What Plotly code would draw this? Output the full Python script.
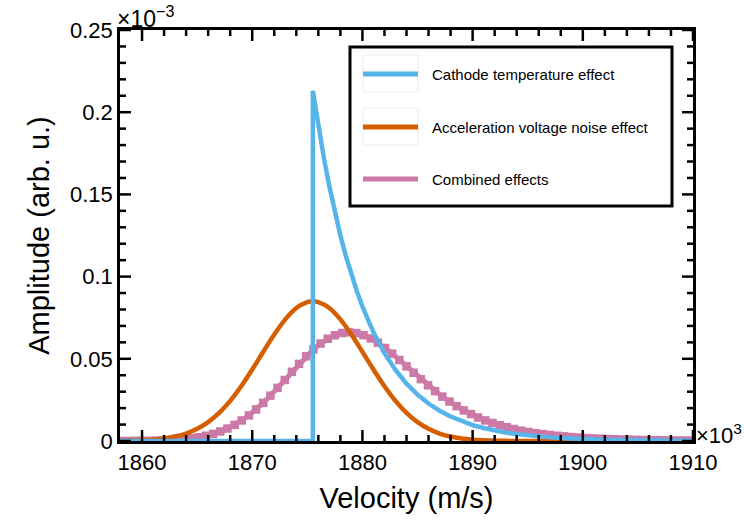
import numpy as np
import plotly.graph_objects as go

# ---- data (x in units of 1e3 m/s, y in units of 1e-3) ----
cath_x = [1858, 1875.5, 1875.5, 1875.75, 1876, 1876.5, 1877, 1877.5, 1878, 1878.5,
          1879, 1879.5, 1880, 1881, 1882, 1883, 1884, 1885, 1886, 1887, 1888, 1889,
          1890, 1891, 1892, 1893, 1894, 1895, 1896, 1897, 1898, 1899, 1900, 1901,
          1902, 1903, 1904, 1905, 1906, 1907, 1908, 1909, 1910]
cath_y = [0, 0, 0.213, 0.2020, 0.1915, 0.1722, 0.1548, 0.1392, 0.1251, 0.1125,
          0.1012, 0.0910, 0.0818, 0.0661, 0.0534, 0.0432, 0.0349, 0.0282, 0.0228,
          0.0184, 0.0149, 0.0121, 0.0097, 0.0079, 0.0064, 0.0051, 0.0042, 0.0034,
          0.0027, 0.0022, 0.0018, 0.0014, 0.0012, 0.0009, 0.0008, 0.0006, 0.0005,
          0.0004, 0.0003, 0.0003, 0.0002, 0.0002, 0.0001]

acc_x = [1858, 1859, 1860, 1861, 1862, 1863, 1864, 1865, 1866, 1867, 1868, 1869,
         1870, 1871, 1872, 1873, 1874, 1875, 1875.5, 1876, 1877, 1878, 1879, 1880,
         1881, 1882, 1883, 1884, 1885, 1886, 1887, 1888, 1889, 1890, 1891, 1892,
         1893, 1894, 1895, 1896, 1897, 1898, 1899, 1900, 1901, 1902, 1903, 1904,
         1905, 1906, 1907, 1908, 1909, 1910]
acc_y = [0.0001, 0.0002, 0.0004, 0.0008, 0.0015, 0.0027, 0.0045, 0.0074, 0.0115,
         0.0171, 0.0244, 0.0333, 0.0435, 0.0543, 0.0648, 0.0740, 0.0809, 0.0845,
         0.0850, 0.0845, 0.0809, 0.0740, 0.0648, 0.0543, 0.0435, 0.0333, 0.0244,
         0.0171, 0.0115, 0.0074, 0.0045, 0.0027, 0.0015, 0.0008, 0.0004, 0.0002,
         0.0001, 0, 0, 0, 0, 0, 0, 0, 0, 0, 0, 0, 0, 0, 0, 0, 0, 0]

comb_x = np.linspace(1858, 1910, 81)
comb_y = [0.0000, 0.0000, 0.0001, 0.0001, 0.0001,
          0.0002, 0.0003, 0.0005, 0.0008, 0.0011,
          0.0016, 0.0023, 0.0032, 0.0043, 0.0058,
          0.0076, 0.0098, 0.0125, 0.0156, 0.0192,
          0.0232, 0.0276, 0.0323, 0.0371, 0.0421,
          0.0469, 0.0515, 0.0557, 0.0593, 0.0622,
          0.0643, 0.0657, 0.0661, 0.0656, 0.0644,
          0.0624, 0.0598, 0.0566, 0.0531, 0.0493,
          0.0454, 0.0415, 0.0376, 0.0339, 0.0303,
          0.0270, 0.0240, 0.0212, 0.0186, 0.0164,
          0.0143, 0.0125, 0.0110, 0.0096, 0.0084,
          0.0073, 0.0063, 0.0055, 0.0048, 0.0042,
          0.0037, 0.0032, 0.0028, 0.0024, 0.0021,
          0.0018, 0.0016, 0.0014, 0.0012, 0.0011,
          0.0009, 0.0008, 0.0007, 0.0006, 0.0005,
          0.0005, 0.0004, 0.0003, 0.0003, 0.0003,
          0.0002]

series_names = ["Cathode temperature effect", "Acceleration voltage noise effect", "Combined effects"]
x_major = [1860, 1870, 1880, 1890, 1900, 1910]
x_minor = [1862, 1864, 1866, 1868, 1872, 1874, 1876, 1878, 1882, 1884, 1886, 1888,
           1892, 1894, 1896, 1898, 1902, 1904, 1906, 1908]
y_major = [0, 0.05, 0.1, 0.15, 0.2, 0.25]
y_minor = [0.01, 0.02, 0.03, 0.04, 0.06, 0.07, 0.08, 0.09, 0.11, 0.12, 0.13, 0.14,
           0.16, 0.17, 0.18, 0.19, 0.21, 0.22, 0.23, 0.24]

C_CYAN = "#56B4E9"
C_ORANGE = "#D55E00"
C_PINK = "#CC79A7"
FONT = "Liberation Sans, Arial, Helvetica, sans-serif"

fig = go.Figure()
fig.add_trace(go.Scatter(x=comb_x, y=comb_y, mode="lines+markers",
                         line=dict(color=C_PINK, width=5),
                         marker=dict(symbol="square", size=8.5, color=C_PINK,
                                     line=dict(width=0)),
                         showlegend=False, name=series_names[2]))
fig.add_trace(go.Scatter(x=acc_x, y=acc_y, mode="lines",
                         line=dict(color=C_ORANGE, width=4.5, shape="spline", smoothing=0.8),
                         showlegend=False, name=series_names[1]))
fig.add_trace(go.Scatter(x=cath_x, y=cath_y, mode="lines",
                         line=dict(color=C_CYAN, width=4.5),
                         showlegend=False, name=series_names[0]))

# ---- manual legend (paper coordinates) ----
L, R, T, B = 120, 693, 30, 441
def px(x):
    return (x - L) / (R - L)
def py(y):
    return (B - y) / (B - T)

shapes = []
annotations = []

# axis tick marks (inside, on all four sides)
TW = 2.5
def xtick(v, ln):
    shapes.append(dict(type="line", xref="x", yref="paper", ysizemode="pixel",
                       yanchor=0, x0=v, x1=v, y0=0, y1=ln,
                       line=dict(color="black", width=TW), layer="above"))
    shapes.append(dict(type="line", xref="x", yref="paper", ysizemode="pixel",
                       yanchor=1, x0=v, x1=v, y0=0, y1=-ln,
                       line=dict(color="black", width=TW), layer="above"))
def ytick(v, ln):
    shapes.append(dict(type="line", xref="paper", yref="y", xsizemode="pixel",
                       xanchor=0, y0=v, y1=v, x0=0, x1=ln,
                       line=dict(color="black", width=TW), layer="above"))
    shapes.append(dict(type="line", xref="paper", yref="y", xsizemode="pixel",
                       xanchor=1, y0=v, y1=v, x0=0, x1=-ln,
                       line=dict(color="black", width=TW), layer="above"))
for v in x_major:
    xtick(v, 11)
for v in x_minor:
    xtick(v, 6)
for v in y_major:
    ytick(v, 11)
for v in y_minor:
    ytick(v, 6)

shapes.append(dict(type="rect", xref="paper", yref="paper",
                   x0=px(350), x1=px(672), y0=py(206), y1=py(47),
                   line=dict(color="black", width=3), fillcolor="white", layer="above"))
rows = [74, 127, 179]
cols = [C_CYAN, C_ORANGE, C_PINK]
for i, (ry, c, name) in enumerate(zip(rows, cols, series_names)):
    if i < 2:
        shapes.append(dict(type="rect", xref="paper", yref="paper",
                           x0=px(363), x1=px(418), y0=py(ry + 18), y1=py(ry - 19),
                           line=dict(color="#ececec", width=1), layer="above"))
    shapes.append(dict(type="line", xref="paper", yref="paper",
                       x0=px(363), x1=px(418), y0=py(ry), y1=py(ry),
                       line=dict(color=c, width=5), layer="above"))
    annotations.append(dict(xref="paper", yref="paper", x=px(430), y=py(ry),
                            xanchor="left", yanchor="middle", showarrow=False,
                            text=name, font=dict(size=15, color="black", family=FONT)))

annotations.append(dict(xref="paper", yref="paper", x=px(115), y=py(17),
                        xanchor="left", yanchor="middle", showarrow=False,
                        text="×10<sup>−3</sup>", font=dict(size=23, color="black", family=FONT)))
annotations.append(dict(xref="paper", yref="paper", x=px(694), y=py(434),
                        xanchor="left", yanchor="middle", showarrow=False,
                        text="×10<sup>3</sup>", font=dict(size=22, color="black", family=FONT)))

fig.update_layout(
    width=744, height=528,
    margin=dict(l=L, r=744 - R, t=T, b=528 - B),
    paper_bgcolor="white", plot_bgcolor="white",
    font=dict(family=FONT, color="black"),
    shapes=shapes, annotations=annotations,
    xaxis=dict(range=[1858, 1910], tickmode="array", tickvals=x_major,
               ticks="", showline=True, linewidth=2.5, linecolor="black", mirror=True,
               showgrid=False, zeroline=False, tickfont=dict(size=22),
               title=dict(text="Velocity (m/s)", font=dict(size=29), standoff=14)),
    yaxis=dict(range=[0, 0.25], tickmode="array", tickvals=y_major,
               ticktext=["0", "0.05", "0.1", "0.15", "0.2", "0.25"],
               ticks="", showline=True, linewidth=2.5, linecolor="black", mirror=True,
               showgrid=False, zeroline=False, tickfont=dict(size=22),
               title=dict(text="Amplitude (arb. u.)", font=dict(size=29), standoff=12)),
)

fig.write_html("out.html")
